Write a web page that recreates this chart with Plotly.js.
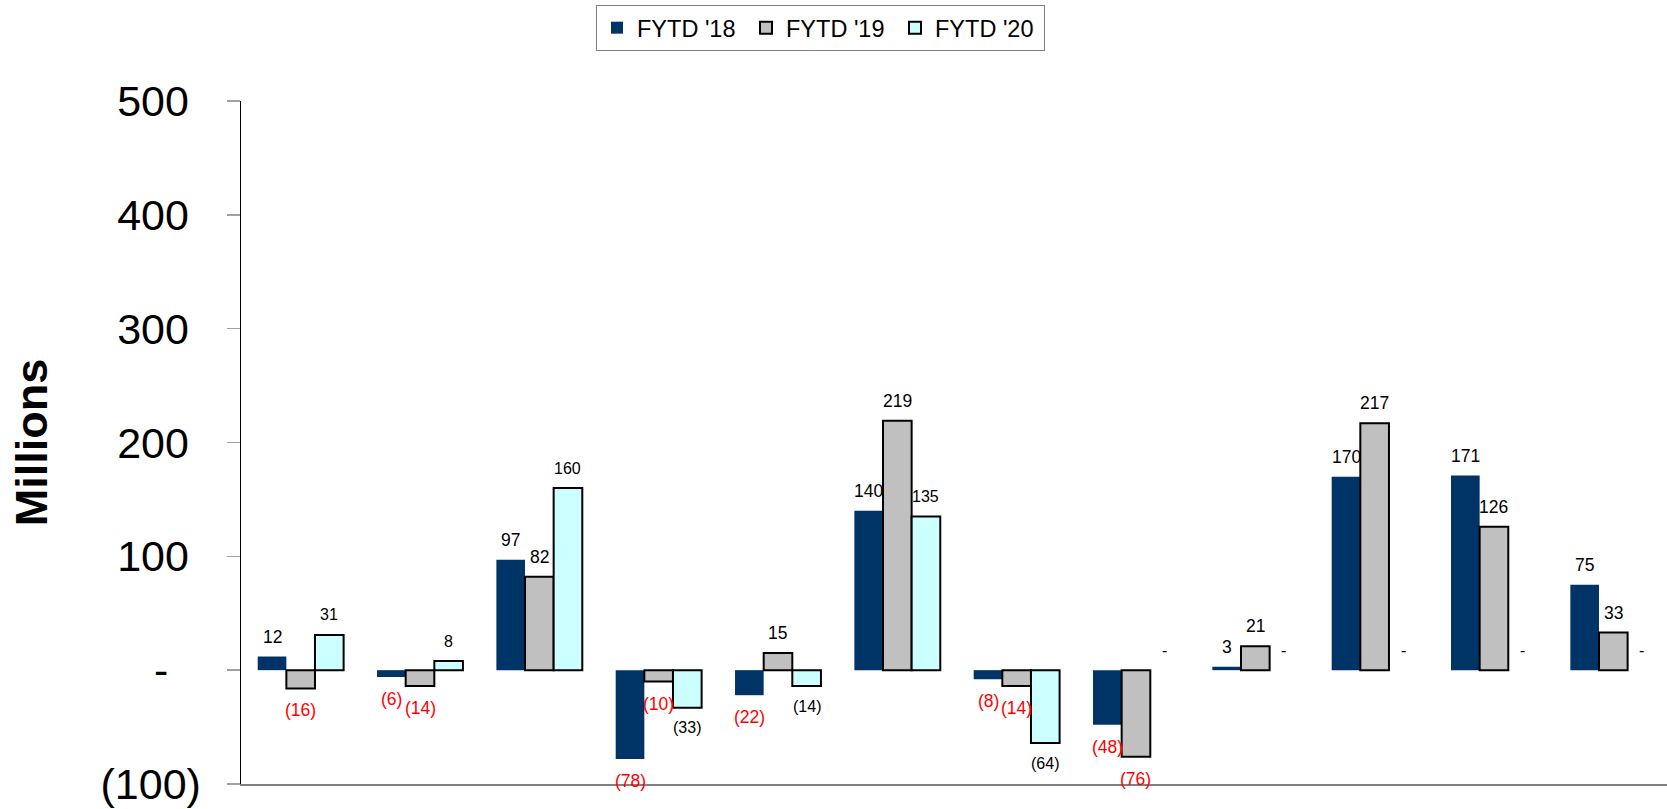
<!DOCTYPE html>
<html>
<head>
<meta charset="utf-8">
<script src="https://cdn.plot.ly/plotly-3.0.1.min.js"></script>
<style>
  html, body { margin: 0; padding: 0; background: #ffffff; }
  #chart { width: 1667px; height: 809px; }
</style>
</head>
<body>
<div id="chart"></div>
<script>
// ---- data ----
const categories = ["Jul", "Aug", "Sep", "Oct", "Nov", "Dec", "Jan", "Feb", "Mar", "Apr", "May", "Jun"];
const seriesNames = ["FYTD '18", "FYTD '19", "FYTD '20"];
const fytd18 = [12, -6, 97, -78, -22, 140, -8, -48, 3, 170, 171, 75];
const fytd19 = [-16, -14, 82, -10, 15, 219, -14, -76, 21, 217, 126, 33];
const fytd20 = [31, 8, 160, -33, -14, 135, -64, 0, 0, 0, 0, 0];
const yTickVals = [-100, 0, 100, 200, 300, 400, 500];

// ---- styling ----
const FONT = "'Liberation Sans', Arial, Helvetica, sans-serif";
const colors = ["#003366", "#C0C0C0", "#CCFFFF"];
const lineWidths = [0, 2, 2];
const BARGAP = 0.28;

function fmtTick(v) {
  if (v > 0) return String(v) + "\u2008";
  if (v < 0) return "(" + Math.abs(v) + ")";
  return "-\u2007\u2009";
}
function fmtLabel(v) {
  if (v > 0) return String(v);
  if (v < 0) return "(" + Math.abs(v) + ")";
  return "-";
}

const xIdx = categories.map((_, i) => i);
const allSeries = [fytd18, fytd19, fytd20];

const traces = allSeries.map((vals, s) => ({
  type: "bar",
  name: seriesNames[s],
  x: xIdx,
  y: vals,
  marker: {
    color: colors[s],
    line: {
      color: s === 0 ? colors[0] : "#000000",
      width: vals.map(v => (v === 0 ? 0 : lineWidths[s]))
    }
  },
  hoverinfo: "skip"
}));

// data labels placed on the library's scales
const barW = (1 - BARGAP) / allSeries.length;
const annotations = [];
allSeries.forEach((vals, s) => {
  vals.forEach((v, i) => {
    const neg = v < 0;
    annotations.push({
      x: i + (s - 1) * barW,
      y: v,
      xref: "x",
      yref: "y",
      text: fmtLabel(v),
      showarrow: false,
      xanchor: "center",
      yanchor: "middle",
      yshift: neg ? (s === 2 ? -20 : -22) : 20,
      font: {
        family: FONT,
        size: s === 2 ? 16 : 17.5,
        color: (neg && s !== 2) ? "#FF0000" : "#000000"
      }
    });
  });
});

const layout = {
  width: 1667,
  height: 809,
  margin: { l: 241, r: 0, t: 101, b: 25, pad: 0 },
  paper_bgcolor: "#ffffff",
  plot_bgcolor: "#ffffff",
  font: { family: FONT, color: "#000000" },
  barmode: "group",
  bargap: BARGAP,
  bargroupgap: 0,
  showlegend: true,
  legend: {
    orientation: "h",
    x: (596 - 241) / 1426,
    xanchor: "left",
    y: 1.1407,
    yanchor: "top",
    bgcolor: "#ffffff",
    bordercolor: "#808080",
    borderwidth: 1,
    entrywidth: 104,
    font: { family: FONT, size: 23.5, color: "#000000" },
    traceorder: "normal"
  },
  xaxis: {
    type: "linear",
    range: [-0.5, 11.45],
    showticklabels: false,
    ticks: "",
    showgrid: false,
    zeroline: false,
    showline: true,
    linecolor: "#808080",
    linewidth: 1.5,
    fixedrange: true
  },
  yaxis: {
    range: [-100, 500],
    tickmode: "array",
    tickvals: yTickVals,
    ticktext: yTickVals.map(fmtTick),
    ticks: "outside",
    ticklen: 13,
    tickwidth: 1.5,
    tickcolor: "#A0A0A0",
    ticklabelstandoff: 17,
    tickfont: { family: FONT, size: 43, color: "#000000" },
    showgrid: false,
    zeroline: false,
    showline: true,
    linecolor: "#000000",
    linewidth: 1.5,
    fixedrange: true,
    title: {
      text: "<b>Millions</b>",
      font: { family: FONT, size: 45, color: "#000000" },
      standoff: 39
    }
  },
  annotations: annotations
};

Plotly.newPlot("chart", traces, layout, { displayModeBar: false, staticPlot: true });
</script>
</body>
</html>
